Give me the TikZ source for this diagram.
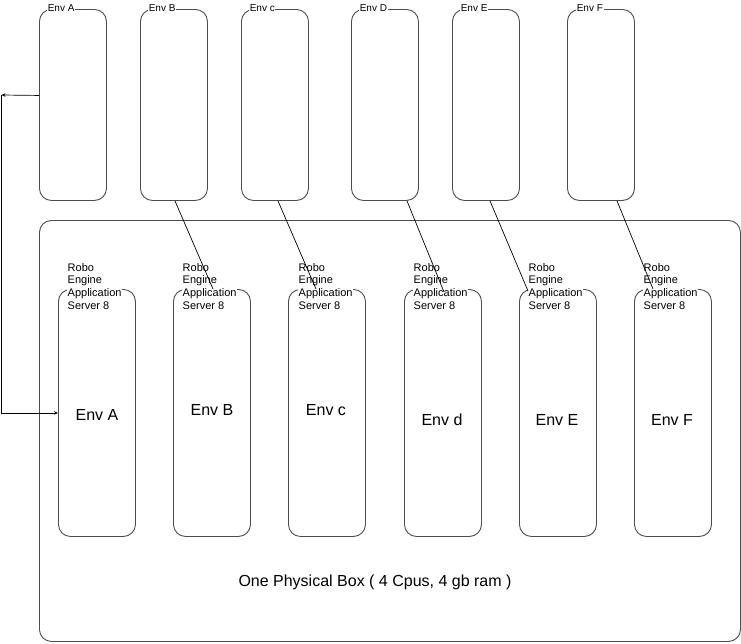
\documentclass[tikz,border=0pt]{standalone}
\usepackage{fontspec}
\setmainfont{Liberation Sans}
\usetikzlibrary{arrows.meta}
\begin{document}
\begin{tikzpicture}[x=1pt,y=-1pt,
  box/.style={draw=black!70, line width=0.9pt, rounded corners=12pt, inner sep=0pt, anchor=north west},
  topbox/.style={box, minimum width=67pt, minimum height=191pt},
  innerbox/.style={box, minimum width=77pt, minimum height=247pt},
  toplbl/.style={fill=white, inner sep=0.6pt, anchor=west, font=\fontsize{10}{12}\selectfont},
  srv/.style={fill=white, inner sep=0.5pt, anchor=north west, align=left, font=\fontsize{11}{12.7}\selectfont},
  envlbl/.style={font=\fontsize{16}{19}\selectfont},
  conn/.style={draw=black, line width=0.7pt},
  tip/.style={-{Stealth[length=4pt,width=3.5pt]}}]
\useasboundingbox (0,0) rectangle (741,643);

% big physical box
\node[box, minimum width=701pt, minimum height=421pt] (big) at (39,220) {};
\node[envlbl] (biglbl) at (375,582) {One Physical Box ( 4 Cpus, 4 gb ram )};

% top boxes
\node[topbox] (tA) at (39,9) {};
\node[topbox] (tB) at (140,9) {};
\node[topbox] (tC) at (241,9) {};
\node[topbox] (tD) at (351,9) {};
\node[topbox] (tE) at (452,9) {};
\node[topbox] (tF) at (567,9) {};
\node[toplbl] (ltA) at (47,8.5) {Env A};
\node[toplbl] (ltB) at (148,8.5) {Env B};
\node[toplbl] (ltC) at (249,8.5) {Env c};
\node[toplbl] (ltD) at (359,8.5) {Env D};
\node[toplbl] (ltE) at (460,8.5) {Env E};
\node[toplbl] (ltF) at (576,8.5) {Env F};

% inner boxes
\node[innerbox] (iA) at (58,289) {};
\node[innerbox] (iB) at (173,289) {};
\node[innerbox] (iC) at (288,289) {};
\node[innerbox] (iD) at (404,289) {};
\node[innerbox] (iE) at (519,289) {};
\node[innerbox] (iF) at (634,289) {};

\foreach \n/\x in {A/67,B/182,C/298,D/413,E/528,F/643}{
  \node[srv] (s\n) at (\x,262.5) {Robo\\Engine\\Application\\Server 8};
}

\node[envlbl] (eA) at (97,415) {Env A};
\node[envlbl] (eB) at (212,410) {Env B};
\node[envlbl] (eC) at (326,410) {Env c};
\node[envlbl] (eD) at (442,420) {Env d};
\node[envlbl] (eE) at (557,420) {Env E};
\node[envlbl] (eF) at (672,420) {Env F};

% connectors
\draw[conn] ([xshift=35pt]tB.south west) -- ([xshift=40pt]iB.north west);
\draw[conn] ([xshift=37pt]tC.south west) -- ([xshift=28pt]iC.north west);
\draw[conn] ([xshift=56pt]tD.south west) -- ([xshift=40pt,yshift=-3pt]iD.north west);
\draw[conn] ([xshift=38pt]tE.south west) -- ([xshift=9pt,yshift=-2pt]iE.north west);
\draw[conn] ([xshift=50pt]tF.south west) -- ([xshift=19pt]iF.north west);

\coordinate (bend1) at (1.5,95);
\draw[conn, tip] ([yshift=9.5pt]tA.west) -- (bend1);
\draw[conn, tip] (bend1) -- (bend1 |- iA.west) -- (iA.west);
\end{tikzpicture}
\end{document}
